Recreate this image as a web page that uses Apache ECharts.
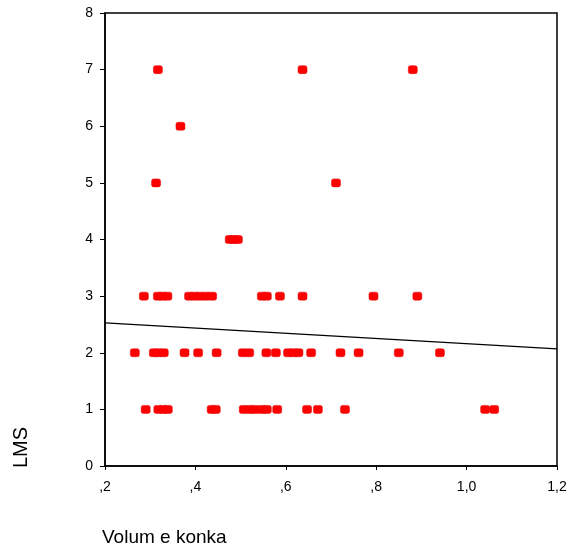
<!DOCTYPE html>
<html>
<head>
<meta charset="utf-8">
<script src="https://cdn.jsdelivr.net/npm/echarts@6/dist/echarts.min.js"></script>
<style>
  html, body { margin: 0; padding: 0; background: #fff; }
  #main { width: 575px; height: 550px; }
</style>
</head>
<body>
<div id="main"></div>
<script>
// Volume konka readings grouped by LMS score
const volLms1 = [0.290, 0.318, 0.329, 0.339, 0.436, 0.445, 0.507, 0.521, 0.532, 0.547, 0.558, 0.581, 0.647, 0.671, 0.731, 1.041, 1.061]
const volLms2 = [0.266, 0.308, 0.318, 0.330, 0.376, 0.406, 0.447, 0.505, 0.519, 0.557, 0.578, 0.605, 0.617, 0.628, 0.656, 0.721, 0.761, 0.850, 0.941]
const volLms3 = [0.286, 0.317, 0.327, 0.338, 0.386, 0.398, 0.410, 0.423, 0.437, 0.547, 0.558, 0.587, 0.637, 0.794, 0.891]
const volLms4 = [0.476, 0.485, 0.494]
const volLms5 = [0.313, 0.711]
const volLms6 = [0.367]
const volLms7 = [0.317, 0.637, 0.881]

// fitted line end points
const fitX = [0.2, 1.2]
const fitY = [2.526, 2.067]

const xTickLabels = { 0.2: ',2', 0.4: ',4', 0.6: ',6', 0.8: ',8', 1: '1,0', 1.2: '1,2' }

const groups = [volLms1, volLms2, volLms3, volLms4, volLms5, volLms6, volLms7]
const points = []
groups.forEach((vols, i) => {
  vols.forEach(v => points.push([v, i + 1]))
})

const chart = echarts.init(document.getElementById('main'))
const font = 'Liberation Sans, Arial, sans-serif'

chart.setOption({
  animation: false,
  grid: {
    left: 105, right: 18, top: 13, bottom: 84,
    containLabel: false,
    outerBoundsMode: 'none',
    show: true,
    borderColor: '#000',
    borderWidth: 1.5,
  },
  xAxis: {
    type: 'value',
    min: 0.2, max: 1.2, interval: 0.2,
    splitLine: { show: false },
    axisLine: { onZero: false, lineStyle: { color: '#000', width: 1.5 } },
    axisTick: { length: 4, lineStyle: { color: '#000' } },
    axisLabel: {
      color: '#000', fontFamily: font, fontSize: 14, margin: 14,
      formatter: v => xTickLabels[Math.round(v * 10) / 10] || '',
    },
  },
  yAxis: {
    type: 'value',
    min: 0, max: 8, interval: 1,
    splitLine: { show: false },
    axisLine: { onZero: false, lineStyle: { color: '#000', width: 1.5 } },
    axisTick: { length: 5, lineStyle: { color: '#000' } },
    axisLabel: { color: '#000', fontFamily: font, fontSize: 14, margin: 12 },
  },
  graphic: [
    {
      type: 'text', left: 102, top: 528,
      style: { text: 'Volum e konka', fontFamily: font, fontSize: 19, fill: '#000' },
    },
    {
      type: 'text', x: 11, y: 468, rotation: Math.PI / 2,
      style: { text: 'LMS', fontFamily: font, fontSize: 20, fill: '#000' },
    },
  ],
  series: [
    {
      type: 'line',
      data: fitX.map((x, i) => [x, fitY[i]]),
      symbol: 'none',
      lineStyle: { color: '#000', width: 1.2 },
      z: 1,
    },
    {
      type: 'scatter',
      data: points,
      symbol: 'roundRect',
      symbolSize: [9, 8],
      itemStyle: { color: '#ff0000', borderColor: '#e00000', borderWidth: 0.5, opacity: 1 },
      z: 2,
    },
  ],
})
</script>
</body>
</html>
